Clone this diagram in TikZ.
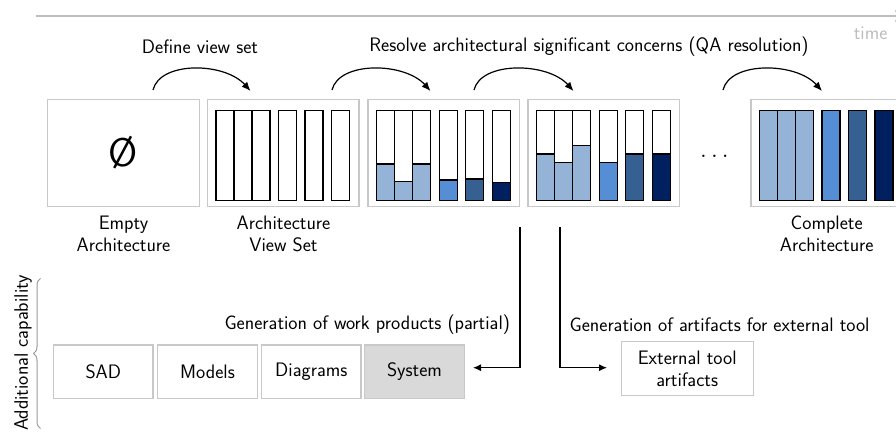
\documentclass[tikz,border=0pt]{standalone}
\usetikzlibrary{arrows.meta,decorations.pathreplacing,calc}
\renewcommand{\familydefault}{\sfdefault}

\definecolor{qaLight}{HTML}{95B3D7}
\definecolor{qaMid}{HTML}{558ED5}
\definecolor{qaDark}{HTML}{376092}
\definecolor{qaNavy}{HTML}{002060}
\definecolor{frameGray}{HTML}{C8C8C8}
\definecolor{sysGray}{HTML}{D9D9D9}
\definecolor{timeGray}{HTML}{BDBDBD}

\tikzset{
  stage/.style={draw=frameGray, line width=1.4pt, minimum width=151.5pt, minimum height=107.4pt, inner sep=0pt},
  product/.style={draw=frameGray, line width=1.4pt, minimum width=99.5pt, minimum height=53.3pt, inner sep=0pt},
  bar/.style={draw=black, line width=1.4pt},
  caption/.style={align=center},
  hop/.style={line width=1.2pt, -{Latex[length=9pt,width=7.5pt]}},
  flow/.style={line width=1.2pt, -{Latex[length=8pt,width=7pt]}},
}

% six quality-attribute bars inside a stage box: #1 = left edge, #2..#7 = fill levels
\newcommand{\qabars}[7]{%
  \foreach \off/\col/\lvl in {8.5/qaLight/#2,26.5/qaLight/#3,44.5/qaLight/#4,71/qaMid/#5,97.5/qaDark/#6,124/qaNavy/#7}{
    \draw[bar, fill=white] ({#1+\off},110.7) rectangle ({#1+\off+18},200.5);
    \draw[bar, fill=\col] ({#1+\off},{200.5-89.8*\lvl}) rectangle ({#1+\off+18},200.5);
  }%
}

\begin{document}
\begin{tikzpicture}[x=1pt,y=-1pt,font=\fontsize{19.5}{22}\selectfont]
\useasboundingbox (0,0) rectangle (896,435);

% time axis
\draw[timeGray, line width=1.2pt, -{To[length=6pt,width=12pt]}] (36,16) -- (901,16);
\node[timeGray, anchor=east] (time) at (891,33) {time};

% stages of the architecture
\node[stage] (s1) at (123.5,153) {};
\node[stage] (s2) at (283.3,153) {};
\node[stage] (s3) at (443.8,153) {};
\node[stage] (s4) at (603.8,153) {};
\node[stage] (s5) at (826.8,153) {};

\node (empty) at (s1.center) {\fontsize{40}{42}\selectfont\O};
\qabars{207.5}{0}{0}{0}{0}{0}{0}
\qabars{368.2}{0.405}{0.21}{0.405}{0.228}{0.24}{0.2}
\qabars{528.2}{0.52}{0.42}{0.61}{0.42}{0.52}{0.52}
\qabars{751}{1}{1}{1}{1}{1}{1}
\node[anchor=base, inner sep=0pt] (dots) at (714.5,158) {\fontsize{27}{29}\selectfont$\ldots$};

\node[caption] (c1) at (123.5,234) {Empty\\Architecture};
\node[caption] (c2) at (283.5,234) {Architecture\\View Set};
\node[caption] (c5) at (826.7,234) {Complete\\Architecture};

% activities between stages
\node (define) at (200,47) {Define view set};
\node (resolve) at (589,47) {Resolve architectural significant concerns (QA resolution)};

\coordinate (h1s) at (153,90);  \coordinate (h1e) at (250.5,91);
\coordinate (h2s) at (332,90);  \coordinate (h2e) at (430.5,91);
\coordinate (h3s) at (474,90);  \coordinate (h3e) at (573.5,91);
\coordinate (h4s) at (723,90);  \coordinate (h4e) at (822,91);
\foreach \h in {1,2,3,4}{
  \draw[hop] (h\h s) .. controls ($(h\h s)+(7,-29)$) and ($(h\h e)+(-26,-29)$) .. (h\h e);
}

% work products
\node[product] (sad) at (103.3,371.7) {SAD};
\node[product] (models) at (207.5,371.7) {Models};
\node[product] (diagrams) at (311.3,371.7) {Diagrams};
\node[product, fill=sysGray] (system) at (414.5,371.7) {System};
\node[product, minimum width=132pt, minimum height=54pt, align=center] (ext) at (687.2,368.7) {External tool\\artifacts};

\node[anchor=east] (genwp) at (513.5,325) {Generation of work products (partial)};
\node[anchor=west] (genext) at (566,325) {Generation of artifacts for external tool};

\coordinate (d1) at (520,227);
\coordinate (d2) at (560,227);
\coordinate (t1) at (473,367.7);
\coordinate (t2) at (607,367.7);
\draw[flow] (d1) |- (t1);
\draw[flow] (d2) |- (t2);

% additional capability brace
\draw[gray!80, line width=1pt, decorate, decoration={brace, amplitude=7pt}] (40.5,428.5) -- (40.5,278.5);
\node[rotate=90] (capability) at (23,353) {Additional capability};
\end{tikzpicture}
\end{document}
